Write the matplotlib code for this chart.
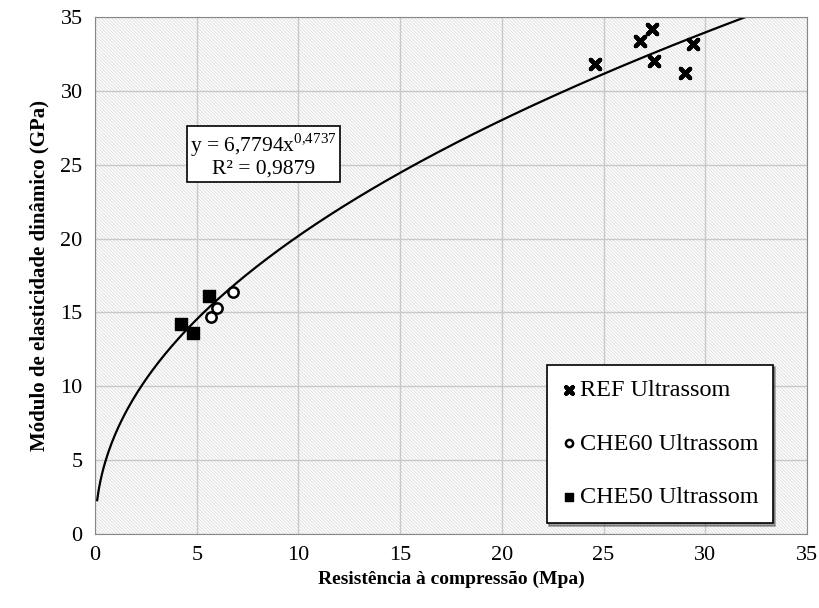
import numpy as np
import matplotlib.pyplot as plt
from matplotlib.patches import Rectangle

plt.rcParams['font.family'] = ['Liberation Serif', 'DejaVu Serif']
plt.rcParams['mathtext.fontset'] = 'custom'
plt.rcParams['mathtext.rm'] = 'Liberation Serif'
plt.rcParams['hatch.linewidth'] = 0.7

# data
ref_x = [24.6, 26.8, 27.4, 27.5, 29.0, 29.4]
ref_y = [31.8, 33.4, 34.2, 32.0, 31.2, 33.2]
che60_x = [6.8, 6.0, 5.7]
che60_y = [16.35, 15.3, 14.7]
che50_x = [4.2, 4.8, 5.6]
che50_y = [14.2, 13.6, 16.1]

coef_a = 6.7794
coef_b = 0.4737

fig = plt.figure(figsize=(8.2, 6.08), dpi=100)
ax = fig.add_axes([0.116, 0.122, 0.868, 0.85])

ax.add_patch(Rectangle((0, 0), 1, 1, transform=ax.transAxes, facecolor='white',
                       edgecolor='#e0e0e0', linewidth=0, hatch='\\' * 10, zorder=0))
ax.grid(True, color='#c8c8c8', linewidth=1, zorder=1)
ax.set_axisbelow(True)

xs = np.linspace(0.1, (35 / coef_a) ** (1 / coef_b), 400)
ax.plot(xs, coef_a * xs ** coef_b, color='black', linewidth=1.6, zorder=2)

ax.scatter(ref_x, ref_y, marker=(4, 2, 45), s=90, color='black', linewidths=3,
           label='REF Ultrassom', zorder=3)
ax.scatter(che60_x, che60_y, marker='o', s=55, facecolor='white', edgecolor='black',
           linewidths=1.8, label='CHE60 Ultrassom', zorder=3)
ax.scatter(che50_x, che50_y, marker='s', s=85, color='black',
           label='CHE50 Ultrassom', zorder=3)

ax.set_xlim(0, 35)
ax.set_ylim(0, 35)
ax.set_xticks(range(0, 36, 5))
ax.set_yticks(range(0, 36, 5))
ax.tick_params(length=0, labelsize=16, pad=9)
for s in ax.spines.values():
    s.set_color('#888888')

ax.set_xlabel('Resistência à compressão (Mpa)', fontsize=14, fontweight='bold', labelpad=4)
ax.set_ylabel('Módulo de elasticidade dinâmico (GPa)', fontsize=15, fontweight='bold', labelpad=8)

ax.text(0.2367, 0.7326, 'y = 6,7794x$^{0{,}4737}$\nR² = 0,9879', transform=ax.transAxes,
        ha='center', va='center', fontsize=15.5, linespacing=1.05, zorder=5,
        bbox=dict(boxstyle='square,pad=0.15', facecolor='white', edgecolor='black', linewidth=1.2))

leg = ax.legend(loc='lower right', bbox_to_anchor=(0.952, 0.021), fontsize=17.5, frameon=True,
                fancybox=False, shadow=True, borderpad=0.6, labelspacing=1.3,
                handletextpad=0.15, handlelength=0.6, borderaxespad=0, markerscale=0.7)
leg.get_frame().set_edgecolor('black')
leg.get_frame().set_linewidth(1.2)

fig.savefig('out.png', dpi=100)
